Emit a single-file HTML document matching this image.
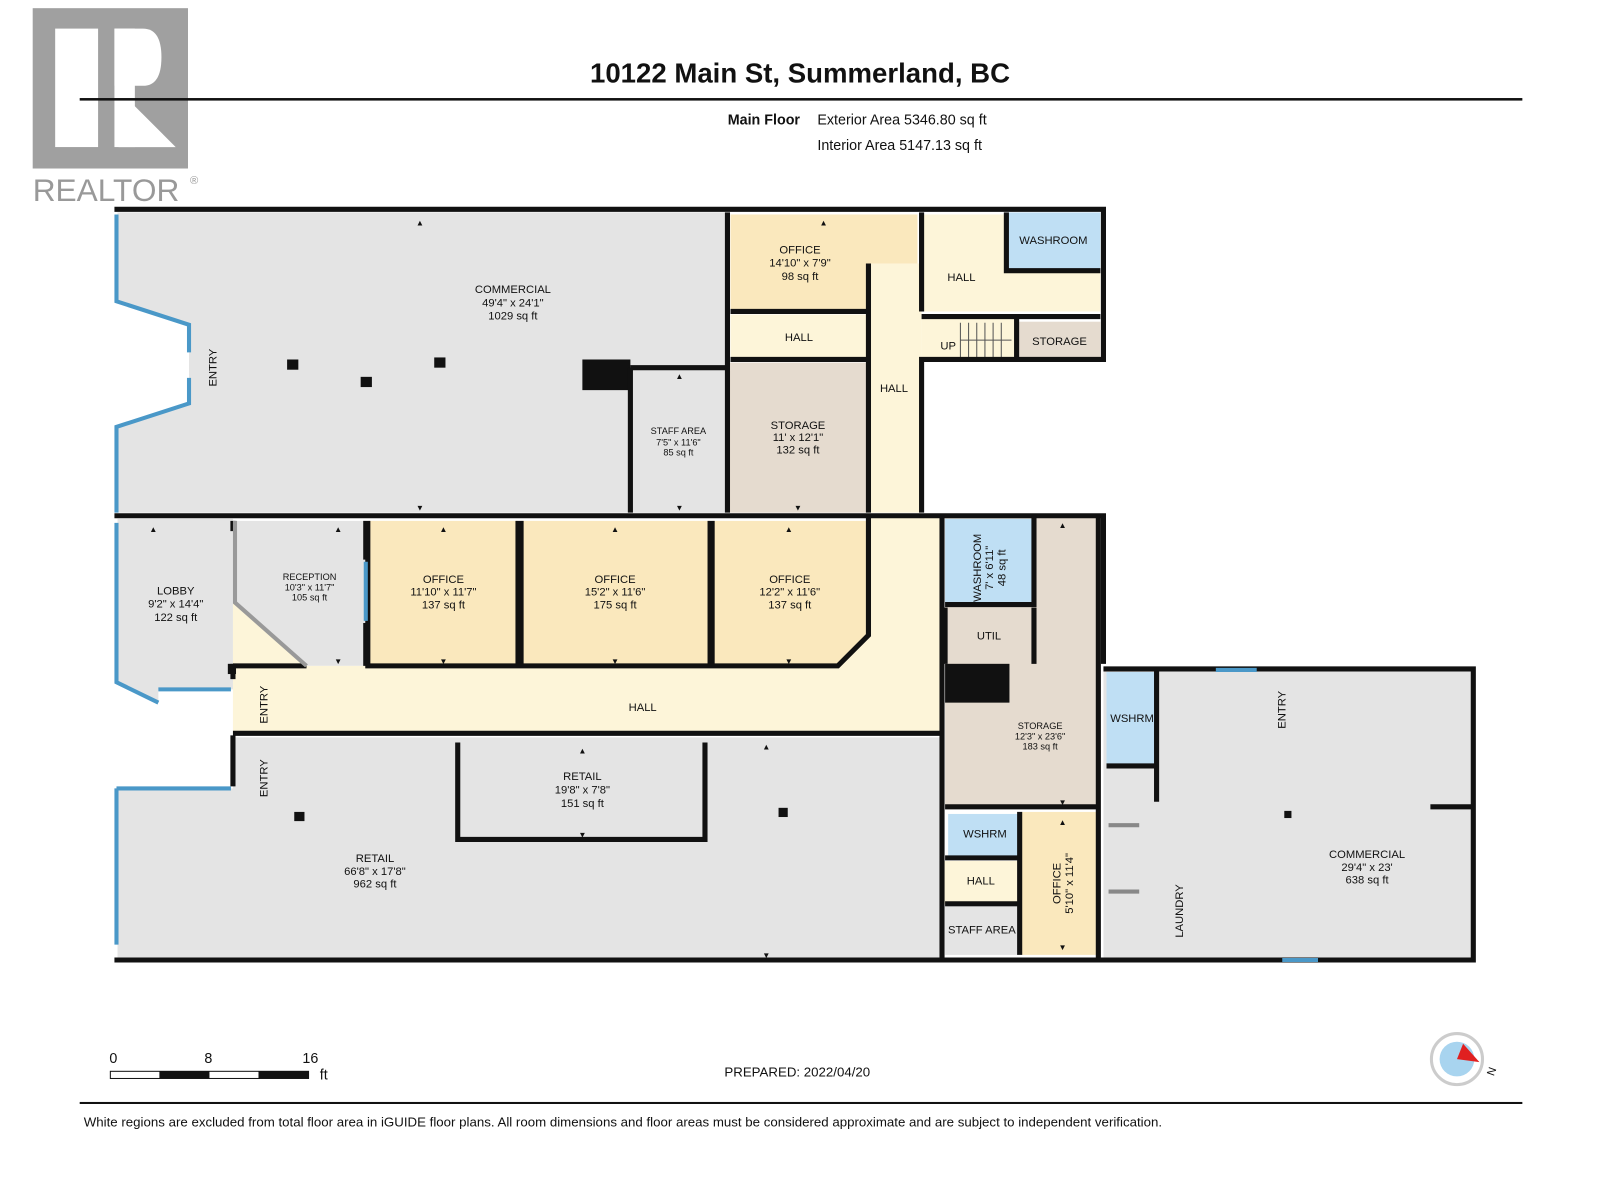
<!DOCTYPE html>
<html><head><meta charset="utf-8"><style>
html,body{margin:0;padding:0;background:#fff;}
svg{display:block;}
text{font-family:"Liberation Sans",sans-serif;fill:#111;}
.l{font-size:11px;text-anchor:middle;}
.s{font-size:9px;text-anchor:middle;}
.a{fill:#222;}
</style></head><body>
<svg width="1600" height="1200" viewBox="0 0 1566 1175" preserveAspectRatio="none" xmlns="http://www.w3.org/2000/svg">
<!-- logo -->
<rect x="32" y="8" width="152" height="157" fill="#a0a0a0"/>
<rect x="54" y="28" width="42" height="116" fill="#fff"/>
<path d="M112 28 H140 Q158 28 158 56 Q158 84 140 84 H112 Z" fill="#fff"/>
<rect x="112" y="28" width="20" height="116" fill="#fff"/>
<path d="M116 88 L172 144 H116 Z" fill="#fff"/>
<text x="32" y="197" style="font-size:31px;fill:#999">REALTOR</text>
<text x="186" y="180" style="font-size:11px;fill:#999">®</text>
<!-- title -->
<text x="783" y="81" style="font-size:27px;font-weight:bold;text-anchor:middle">10122 Main St, Summerland, BC</text>
<rect x="78" y="96" width="1412" height="2.5" fill="#111"/>
<text x="783" y="122" style="font-size:14px;font-weight:bold;text-anchor:end">Main Floor</text>
<text x="800" y="122" style="font-size:14px">Exterior Area 5346.80 sq ft</text>
<text x="800" y="147" style="font-size:14px">Interior Area 5147.13 sq ft</text>

<!-- fills -->
<polygon points="115,208 712,208 712,502 115,502 115,418 185,395 185,318 115,295" fill="#e4e4e4"/>
<rect x="715" y="210" width="183" height="95" fill="#fae8bd"/>
<rect x="902" y="210" width="175" height="95" fill="#fdf5d9"/>
<rect x="985" y="208" width="92" height="57" fill="#bfdff4"/>
<rect x="715" y="308" width="135" height="44" fill="#fdf5d9"/>
<rect x="850" y="258" width="52" height="244" fill="#fdf5d9"/>
<rect x="712" y="355" width="138" height="147" fill="#e5dbcf"/>
<rect x="617" y="360" width="95" height="142" fill="#e4e4e4"/>
<rect x="570" y="352" width="47" height="30" fill="#111"/>
<rect x="902" y="310" width="93" height="42" fill="#fdf5d9"/>
<g stroke="#555" stroke-width="1"><path d="M940 316 V350 M948 316 V350 M956 316 V350 M964 316 V350 M972 316 V350 M980 316 V350 M940 333 H990"/></g>
<rect x="997" y="315" width="80" height="37" fill="#e5dbcf"/>

<rect x="115" y="508" width="113" height="160" fill="#e4e4e4"/>
<polygon points="115,668 155,688 155,675 228,675 228,660 115,660" fill="#e4e4e4"/>
<polygon points="230,510 358,510 358,652 300,652 230,590" fill="#e4e4e4"/>
<rect x="360" y="510" width="147" height="142" fill="#fae8bd"/>
<rect x="510" y="510" width="185" height="142" fill="#fae8bd"/>
<polygon points="697,510 850,510 850,622 820,652 697,652" fill="#fae8bd"/>
<polygon points="228,590 300,652 820,652 850,622 850,505 922,505 922,720 228,720" fill="#fdf5d9"/>
<rect x="925" y="505" width="150" height="287" fill="#e5dbcf"/>
<rect x="925" y="508" width="87" height="84" fill="#bfdff4"/>
<rect x="925" y="650" width="63" height="38" fill="#111"/>

<polygon points="228,722 922,722 922,940 115,940 115,772 228,772" fill="#e4e4e4"/>
<rect x="448" y="727" width="242" height="95" fill="#e4e4e4"/>
<rect x="928" y="797" width="70" height="42" fill="#bfdff4"/>
<rect x="922" y="843" width="78" height="42" fill="#fdf5d9"/>
<rect x="925" y="888" width="72" height="47" fill="#e4e4e4"/>
<rect x="1000" y="795" width="75" height="140" fill="#fae8bd"/>
<rect x="1080" y="655" width="362" height="285" fill="#e4e4e4"/>
<rect x="1083" y="658" width="49" height="92" fill="#bfdff4"/>

<!-- walls -->
<g stroke="#111" stroke-width="5" fill="none">
<path d="M112 205 H1080 V352 H902 V502"/>
<path d="M712 208 V502 M715 305 H850 M715 352 H850 M850 258 V502 M902 208 V305 M902 310 H1077 M995 312 V352 M985 208 V265 H1077 M617 360 V502 M617 360 H712"/>
<path d="M112 505 H1080 V650"/>
<path d="M358 510 V548 M358 610 V652 M360 510 V652 H507 V510 M510 510 V652 H695 V510 M697 510 V652 H820 L850 622 V505"/>
<path d="M228 652 H300 M228 718 H922 M922 505 V940 M1012 505 V592 H925 M925 595 V650 M1012 595 V650 M925 790 H1075 M1075 505 V940 M998 795 V935 M925 840 H998 M925 885 H998"/>
<path d="M448 727 V822 H690 V727"/>
<path d="M112 940 H1442 V655 H1080 M1132 655 V785 M1083 750 H1132 M1400 790 H1440"/>
<path d="M228 510 V520 M228 650 V665 M228 720 V770"/>
</g>
<path d="M230 510 V590 L300 652" stroke="#999" stroke-width="4" fill="none"/>
<!-- blue windows -->
<g stroke="#4a98c8" stroke-width="4" fill="none">
<path d="M114 210 V295 L185 318 V345 M185 370 V395 L114 418 V502"/>
<path d="M114 512 V668 L155 688 M155 675 H226"/>
<path d="M114 772 H226 M114 772 V925"/>
<path d="M358 550 V608 M1190 656 H1230 M1255 940 H1290"/>
</g>
<g stroke="#888" stroke-width="4"><path d="M1085 808 H1115 M1085 873 H1115"/></g>
<!-- columns -->
<g fill="#111"><rect x="281" y="352" width="11" height="10"/><rect x="425" y="350" width="11" height="10"/><rect x="353" y="369" width="11" height="10"/><rect x="288" y="795" width="10" height="9"/><rect x="762" y="791" width="9" height="9"/><rect x="1257" y="794" width="7" height="7"/><rect x="223" y="650" width="8" height="10"/></g>

<!-- labels -->
<text class="l" x="502" y="287">COMMERCIAL</text><text class="l" x="502" y="300">49'4" x 24'1"</text><text class="l" x="502" y="313">1029 sq ft</text>
<text class="l" transform="translate(212,360) rotate(-90)">ENTRY</text>
<text class="l" x="783" y="248">OFFICE</text><text class="l" x="783" y="261">14'10" x 7'9"</text><text class="l" x="783" y="274">98 sq ft</text>
<text class="l" x="941" y="275">HALL</text>
<text class="l" x="1031" y="239">WASHROOM</text>
<text class="l" x="782" y="334">HALL</text>
<text class="l" x="875" y="384">HALL</text>
<text class="l" x="928" y="342">UP</text>
<text class="l" x="1037" y="338">STORAGE</text>
<text class="s" x="664" y="425">STAFF AREA</text><text class="s" x="664" y="436">7'5" x 11'6"</text><text class="s" x="664" y="446">85 sq ft</text>
<text class="l" x="781" y="420">STORAGE</text><text class="l" x="781" y="432">11' x 12'1"</text><text class="l" x="781" y="444">132 sq ft</text>
<text class="l" x="172" y="582">LOBBY</text><text class="l" x="172" y="595">9'2" x 14'4"</text><text class="l" x="172" y="608">122 sq ft</text>
<text class="s" x="303" y="568">RECEPTION</text><text class="s" x="303" y="578">10'3" x 11'7"</text><text class="s" x="303" y="588">105 sq ft</text>
<text class="l" x="434" y="571">OFFICE</text><text class="l" x="434" y="583">11'10" x 11'7"</text><text class="l" x="434" y="596">137 sq ft</text>
<text class="l" x="602" y="571">OFFICE</text><text class="l" x="602" y="583">15'2" x 11'6"</text><text class="l" x="602" y="596">175 sq ft</text>
<text class="l" x="773" y="571">OFFICE</text><text class="l" x="773" y="583">12'2" x 11'6"</text><text class="l" x="773" y="596">137 sq ft</text>
<text class="l" x="629" y="696">HALL</text>
<text class="l" transform="translate(262,690) rotate(-90)">ENTRY</text>
<text class="l" transform="translate(262,762) rotate(-90)">ENTRY</text>
<text class="l" transform="translate(960,556) rotate(-90)">WASHROOM</text>
<text class="l" transform="translate(972,556) rotate(-90)">7' x 6'11"</text>
<text class="l" transform="translate(984,556) rotate(-90)">48 sq ft</text>
<text class="l" x="968" y="626">UTIL</text>
<text class="s" x="1018" y="714">STORAGE</text><text class="s" x="1018" y="724">12'3" x 23'6"</text><text class="s" x="1018" y="734">183 sq ft</text>
<text class="l" x="1108" y="707">WSHRM</text>
<text class="l" transform="translate(1258,695) rotate(-90)">ENTRY</text>
<text class="l" x="570" y="764">RETAIL</text><text class="l" x="570" y="777">19'8" x 7'8"</text><text class="l" x="570" y="790">151 sq ft</text>
<text class="l" x="367" y="844">RETAIL</text><text class="l" x="367" y="857">66'8" x 17'8"</text><text class="l" x="367" y="869">962 sq ft</text>
<text class="l" x="964" y="820">WSHRM</text>
<text class="l" x="960" y="866">HALL</text>
<text class="l" x="961" y="914">STAFF AREA</text>
<text class="l" transform="translate(1038,865) rotate(-90)">OFFICE</text>
<text class="l" transform="translate(1050,865) rotate(-90)">5'10" x 11'4"</text>
<text class="l" transform="translate(1158,892) rotate(-90)">LAUNDRY</text>
<text class="l" x="1338" y="840">COMMERCIAL</text><text class="l" x="1338" y="853">29'4" x 23'</text><text class="l" x="1338" y="865">638 sq ft</text>

<!-- arrow ticks -->
<g class="a" style="font-size:8px;text-anchor:middle">
<text x="411" y="221">▲</text><text x="411" y="500">▼</text><text x="806" y="221">▲</text><text x="781" y="500">▼</text><text x="665" y="371">▲</text><text x="665" y="500">▼</text>
<text x="150" y="521">▲</text><text x="331" y="521">▲</text><text x="434" y="521">▲</text><text x="602" y="521">▲</text><text x="772" y="521">▲</text>
<text x="434" y="650">▼</text><text x="602" y="650">▼</text><text x="772" y="650">▼</text><text x="331" y="650">▼</text>
<text x="750" y="734">▲</text><text x="750" y="938">▼</text><text x="570" y="738">▲</text><text x="570" y="820">▼</text>
<text x="1040" y="808">▲</text><text x="1040" y="930">▼</text><text x="1040" y="517">▲</text><text x="1040" y="788">▼</text>
</g>
<!-- scale bar -->
<text x="107" y="1041" style="font-size:14px">0</text><text x="200" y="1041" style="font-size:14px">8</text><text x="296" y="1041" style="font-size:14px">16</text>
<text x="313" y="1057" style="font-size:14px">ft</text>
<rect x="108" y="1049" width="194" height="7" fill="#fff" stroke="#111" stroke-width="1"/>
<rect x="156" y="1049" width="49" height="7" fill="#111"/><rect x="253" y="1049" width="49" height="7" fill="#111"/>
<text x="709" y="1054" style="font-size:13px">PREPARED: 2022/04/20</text>
<circle cx="1426" cy="1037" r="25" fill="#fff" stroke="#ccc" stroke-width="3"/>
<circle cx="1426" cy="1037" r="17" fill="#a8d4ef"/>
<polygon points="1426,1037 1448,1040 1432,1022" fill="#e02020"/>
<text x="1455" y="1052" style="font-size:11px" transform="rotate(-70 1460 1048)">N</text>
<rect x="78" y="1079" width="1412" height="2" fill="#111"/>
<text x="82" y="1103" style="font-size:13px">White regions are excluded from total floor area in iGUIDE floor plans. All room dimensions and floor areas must be considered approximate and are subject to independent verification.</text>
</svg>
</body></html>
